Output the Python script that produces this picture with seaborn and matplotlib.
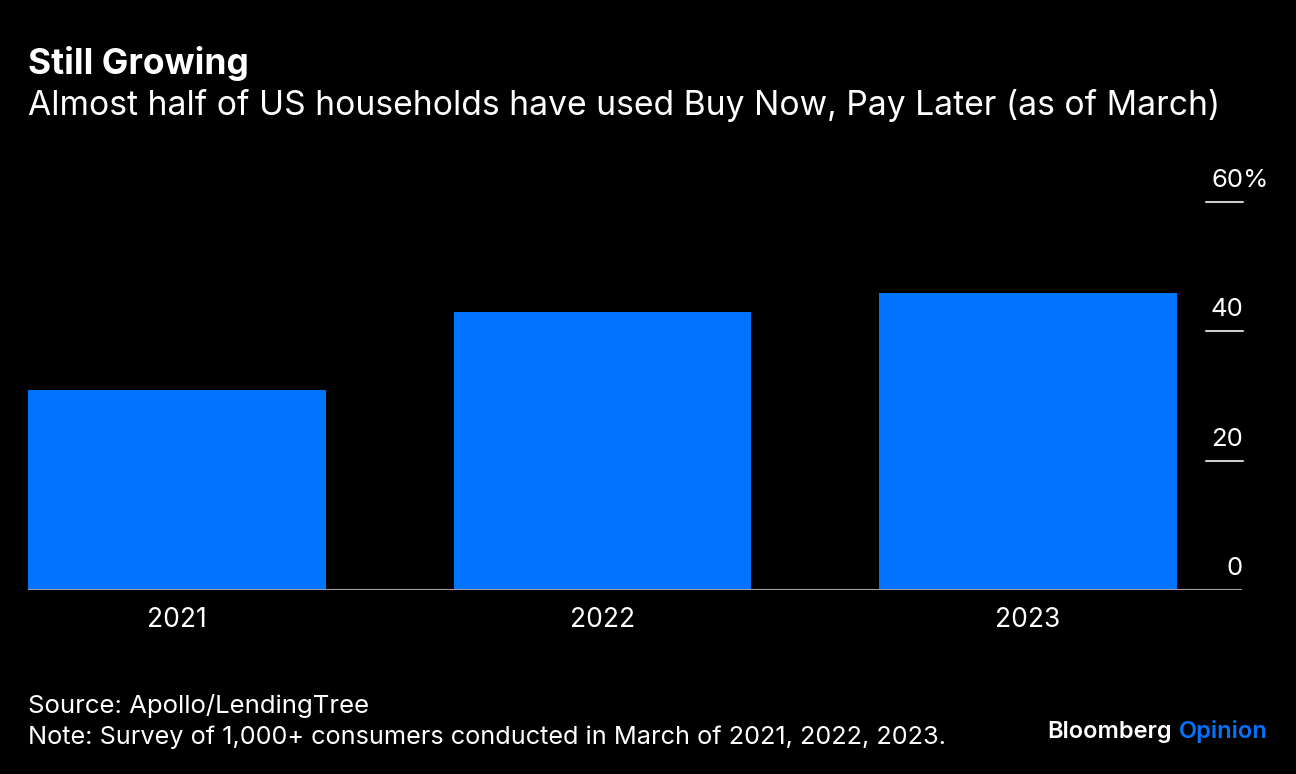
import matplotlib
matplotlib.use("Agg")
import matplotlib.pyplot as plt
import matplotlib.transforms as mtransforms
import seaborn as sns
import pandas as pd

years = ["2021", "2022", "2023"]
shares = [31.0, 43.0, 46.0]
tick_values = [0, 20, 40, 60]
tick_labels = ["0", "20", "40", "60"]

title = "Still Growing"
subtitle = "Almost half of US households have used Buy Now, Pay Later (as of March)"
source = "Source: Apollo/LendingTree"
note = "Note: Survey of 1,000+ consumers conducted in March of 2021, 2022, 2023."

BG = "#000000"
BLUE = "#0073FF"
FONT = ["Inter", "DejaVu Sans"]

sns.set_theme(style="white")
plt.rcParams["font.family"] = FONT

W, H = 1296, 774
fig = plt.figure(figsize=(W / 100, H / 100), dpi=100, facecolor=BG)
ax = fig.add_axes([28 / W, 1 - 590 / H, (1242 - 28) / W, (590 - 202) / H])
ax.set_facecolor(BG)

df = pd.DataFrame({"year": years, "share": shares})
sns.barplot(data=df, x="year", y="share", color=BLUE, saturation=1, width=0.7,
            linewidth=0, edgecolor=BLUE, ax=ax)

ax.set_xlim(-0.35, 2.503)
ax.set_ylim(0, 60)
for s in ax.spines.values():
    s.set_visible(False)
ax.set_yticks([])
ax.set_xlabel("")
ax.set_ylabel("")
ax.tick_params(axis="x", length=0, pad=12, labelsize=19, labelcolor="white")

# baseline
ax.axhline(0, color="#a0a0a0", lw=1.5, zorder=5)

renderer = fig.canvas.get_renderer()

# right-side tick marks and labels
xm = (1206 - 28) / (1242 - 28)
trans = mtransforms.blended_transform_factory(ax.transAxes, ax.transData)
off = mtransforms.ScaledTranslation(0, 10 / 100, fig.dpi_scale_trans)
for v, lab in zip(tick_values, tick_labels):
    if v != 0:
        ax.plot([xm, 1.001], [v, v], transform=trans, color="#cccccc", lw=1.5,
                clip_on=False, zorder=5)
    t = ax.text(1.001, v, lab, ha="right", va="bottom", color="white",
                fontsize=18.5, clip_on=False)
    t.set_transform(trans + off)
    if v == 60:
        bb = t.get_window_extent(renderer)
        t.set_visible(False)
        fig.text(bb.x0 / W, bb.y0 / H, lab + "%", ha="left", va="bottom",
                 color="white", fontsize=18.5)

def fitted_text(x_px, y_px, s, target_w, size, **kw):
    t = fig.text(x_px / W, 1 - y_px / H, s, color="white", fontsize=size,
                 ha="left", va="baseline", **kw)
    w = t.get_window_extent(renderer).width
    t.set_fontsize(size * target_w / w)
    return t


fitted_text(28, 74, title, 221, 24, fontweight="bold")
fitted_text(28, 115, subtitle, 1190, 22)
fitted_text(28, 713, source, 343, 17)
fitted_text(28, 744, note, 919, 17)

tb = fig.text(1268 / W, 1 - 738 / H, "Opinion", color=BLUE, fontsize=17,
              fontweight="semibold", ha="right", va="baseline")
bb = tb.get_window_extent(renderer)
fig.text((bb.x0 - 7) / W, 1 - 738 / H, "Bloomberg", color="white", fontsize=17,
         fontweight="semibold", ha="right", va="baseline")

fig.savefig("out.png", dpi=100, facecolor=BG)
